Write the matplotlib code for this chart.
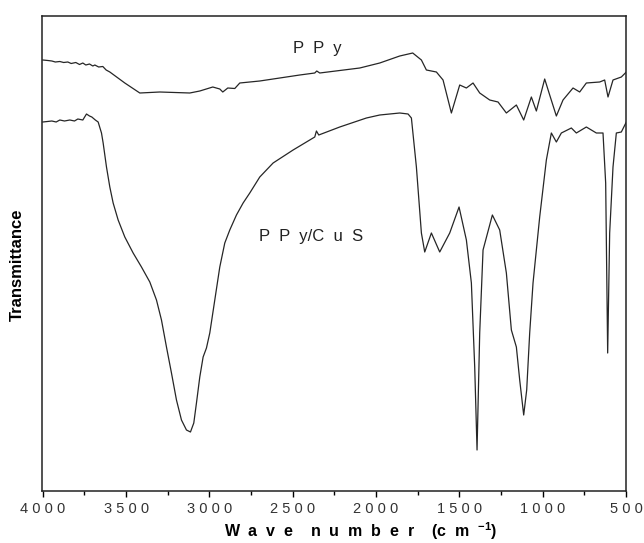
import matplotlib.pyplot as plt
from matplotlib.ticker import MultipleLocator

plt.rcParams['font.family'] = ['Liberation Sans', 'DejaVu Sans']
plt.rcParams['mathtext.fontset'] = 'custom'
plt.rcParams['mathtext.bf'] = 'Liberation Sans:bold'
plt.rcParams['mathtext.rm'] = 'Liberation Sans:bold'
plt.rcParams['mathtext.default'] = 'bf'

# PPy spectrum (wavenumber cm-1, transmittance in arbitrary units)
ppy_wn = [4000, 3970, 3946, 3925, 3898, 3875, 3850, 3830, 3802, 3780, 3760,
          3742, 3720, 3700, 3688, 3665, 3640, 3620, 3598, 3508, 3418,
          3298, 3118, 3058, 2980, 2938, 2920, 2890, 2848, 2818, 2698, 2458,
          2368, 2356, 2338, 2098, 1978, 1858, 1780, 1728, 1698, 1638, 1598,
          1548, 1498, 1458, 1418, 1378, 1318, 1268, 1218, 1158, 1114, 1068,
          1038, 988, 958, 918, 878, 818, 778, 738, 658, 628, 608, 578, 528, 498]
ppy_t = [431, 430.5, 430, 429, 429.5, 428.5, 429, 427.5, 428.5, 426.5, 428,
         426, 427, 425, 426, 424, 424.5, 421, 419, 408, 398,
         399, 398, 400, 404, 402, 399, 403, 402.5, 408, 410, 416,
         418, 420, 418, 423, 428, 435, 438, 431, 421, 419, 411,
         378, 406, 403, 408, 398, 391, 389, 378, 386, 371, 394,
         380, 412, 396, 375, 391, 403, 399, 408, 409, 411, 394, 411, 414, 419]

# PPy/CuS spectrum
cus_wn = [4000, 3946, 3920, 3898, 3870, 3838, 3810, 3790, 3760, 3738, 3720,
          3706, 3685, 3668, 3648, 3638, 3618, 3598, 3578, 3548, 3508, 3458,
          3408, 3358, 3318, 3288, 3258, 3228, 3198, 3168, 3138, 3114, 3094,
          3078, 3058, 3038, 3018, 2998, 2968, 2938, 2908, 2878, 2838, 2798,
          2758, 2698, 2618, 2498, 2368, 2358, 2344, 2218, 2058, 1978, 1858,
          1808, 1788, 1758, 1728, 1708, 1668, 1618, 1558, 1502, 1458, 1428,
          1408, 1394, 1378, 1358, 1302, 1258, 1218, 1188, 1158, 1138, 1114,
          1096, 1078, 1058, 1018, 978, 948, 918, 888, 828, 798, 738, 678,
          638, 622, 610, 598, 578, 558, 528, 498]
cus_t = [369, 370, 369, 371, 370, 371, 370, 372, 371, 377, 375,
         374, 371, 369, 358, 348, 324, 304, 288, 271, 254, 238,
         224, 209, 191, 171, 144, 118, 91, 71, 61, 59, 68,
         88, 114, 134, 143, 158, 191, 224, 248, 261, 276, 288,
         298, 314, 328, 341, 354, 360, 356, 364, 373, 376, 378,
         377, 373, 324, 258, 239, 258, 239, 258, 284, 251, 208,
         124, 41, 158, 241, 276, 261, 218, 161, 144, 111, 76,
         101, 158, 208, 274, 331, 358, 349, 358, 363, 358, 364, 358,
         358, 308, 138, 258, 324, 358, 359, 369]

tick_vals = [4000, 3500, 3000, 2500, 2000, 1500, 1000, 500]
tick_labels = [' '.join(str(v)) for v in tick_vals]

fig = plt.figure(figsize=(6.44, 5.43), dpi=100)
ax = fig.add_axes([42 / 644, 52 / 543, 584 / 644, 475 / 543])

ax.plot(ppy_wn, ppy_t, color='#262626', lw=0.9)
ax.plot(cus_wn, cus_t, color='#262626', lw=0.9)

ax.set_xlim(4005, 500)
ax.set_ylim(0, 475)

ax.set_xticks(tick_vals)
ax.set_xticklabels(tick_labels, fontsize=10.5, color='#333333')
ax.xaxis.set_minor_locator(MultipleLocator(250))
ax.tick_params(axis='x', which='major', direction='out', length=4.5, width=1.0, pad=3.5)
ax.tick_params(axis='x', which='minor', direction='out', length=3, width=1.0)
ax.set_yticks([])

for s in ax.spines.values():
    s.set_linewidth(1.1)
    s.set_color('#222222')

ax.text(2355, 443, 'P  P  y', fontsize=12, ha='center', va='center', color='#222222')
ax.text(2700, 254, 'P  P  y/C  u  S', fontsize=12, ha='left', va='center',
        color='#222222')

fig.text(361 / 644, 6 / 543,
         r'W  a  v  e    n  u  m  b  e  r    (c  m  $^{-1}$)',
         fontsize=11.5, fontweight='bold', ha='center', va='baseline')
ax.set_ylabel('Transmittance', fontsize=12, fontweight='bold')
ax.yaxis.set_label_coords(-0.029, 0.476)

fig.savefig('out.png', dpi=100)
